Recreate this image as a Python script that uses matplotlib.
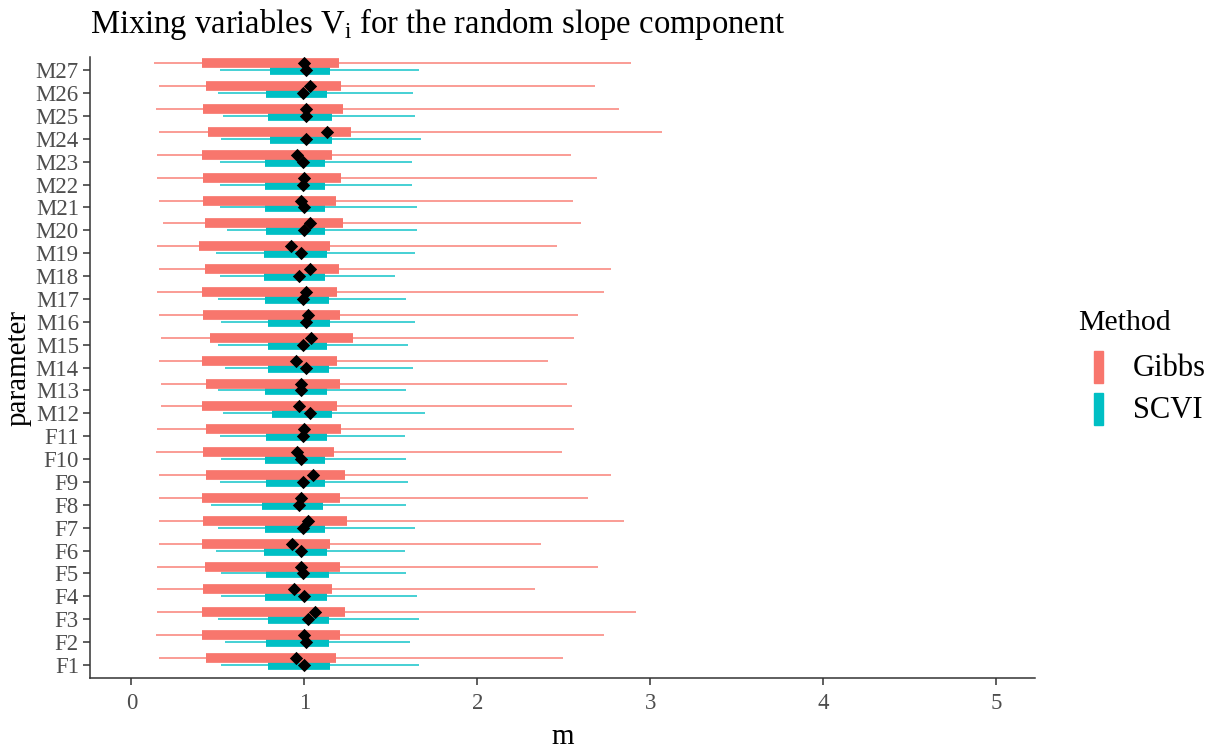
import matplotlib
matplotlib.use("Agg")
import matplotlib.pyplot as plt
from matplotlib.patches import Rectangle

plt.rcParams['font.family'] = ['Liberation Serif', 'DejaVu Serif']
plt.rcParams['mathtext.fontset'] = 'custom'
plt.rcParams['mathtext.rm'] = 'Liberation Serif'

params = ['F1', 'F2', 'F3', 'F4', 'F5', 'F6', 'F7', 'F8', 'F9', 'F10', 'F11',
          'M12', 'M13', 'M14', 'M15', 'M16', 'M17', 'M18', 'M19', 'M20', 'M21',
          'M22', 'M23', 'M24', 'M25', 'M26', 'M27']

# Gibbs: outer interval (lo, hi), inner interval (lo, hi), median
gibbs_lo   = [0.16, 0.14, 0.15, 0.15, 0.15, 0.16, 0.16, 0.16, 0.16, 0.14, 0.15,
              0.17, 0.17, 0.16, 0.17, 0.16, 0.15, 0.16, 0.15, 0.18, 0.16,
              0.15, 0.15, 0.16, 0.14, 0.16, 0.13]
gibbs_hi   = [2.495, 2.73, 2.92, 2.335, 2.70, 2.37, 2.85, 2.64, 2.77, 2.49, 2.56,
              2.55, 2.52, 2.41, 2.56, 2.58, 2.73, 2.77, 2.46, 2.60, 2.555,
              2.69, 2.54, 3.07, 2.82, 2.68, 2.89]
gibbs_ilo  = [0.43, 0.41, 0.41, 0.415, 0.425, 0.41, 0.415, 0.41, 0.43, 0.415, 0.43,
              0.41, 0.43, 0.41, 0.455, 0.415, 0.41, 0.425, 0.39, 0.425, 0.415,
              0.415, 0.41, 0.44, 0.415, 0.43, 0.41]
gibbs_ihi  = [1.18, 1.205, 1.235, 1.16, 1.205, 1.15, 1.245, 1.205, 1.235, 1.17, 1.21,
              1.19, 1.205, 1.19, 1.28, 1.205, 1.19, 1.20, 1.15, 1.225, 1.18,
              1.21, 1.16, 1.27, 1.225, 1.21, 1.20]
gibbs_med  = [0.95, 1.00, 1.06, 0.94, 0.98, 0.93, 1.02, 0.98, 1.05, 0.96, 1.00,
              0.97, 0.98, 0.95, 1.04, 1.02, 1.01, 1.03, 0.92, 1.03, 0.98,
              1.00, 0.96, 1.13, 1.01, 1.03, 1.00]

# SCVI
scvi_lo    = [0.52, 0.54, 0.50, 0.52, 0.52, 0.49, 0.50, 0.46, 0.51, 0.52, 0.51,
              0.53, 0.50, 0.54, 0.50, 0.52, 0.50, 0.51, 0.49, 0.55, 0.51,
              0.51, 0.51, 0.52, 0.53, 0.50, 0.51]
scvi_hi    = [1.665, 1.61, 1.665, 1.65, 1.59, 1.58, 1.64, 1.59, 1.60, 1.59, 1.58,
              1.70, 1.59, 1.63, 1.60, 1.64, 1.59, 1.525, 1.64, 1.65, 1.65,
              1.62, 1.62, 1.675, 1.64, 1.63, 1.665]
scvi_ilo   = [0.79, 0.78, 0.79, 0.77, 0.78, 0.765, 0.77, 0.755, 0.78, 0.77, 0.78,
              0.81, 0.77, 0.79, 0.79, 0.79, 0.77, 0.765, 0.765, 0.78, 0.77,
              0.77, 0.77, 0.80, 0.79, 0.78, 0.80]
scvi_ihi   = [1.15, 1.14, 1.14, 1.13, 1.14, 1.13, 1.12, 1.11, 1.12, 1.12, 1.13,
              1.16, 1.13, 1.14, 1.13, 1.15, 1.14, 1.12, 1.13, 1.12, 1.12,
              1.12, 1.12, 1.16, 1.16, 1.13, 1.15]
scvi_med   = [1.00, 1.01, 1.02, 1.00, 0.99, 0.98, 0.99, 0.97, 0.99, 0.98, 0.99,
              1.03, 0.98, 1.01, 0.99, 1.01, 0.99, 0.97, 0.98, 1.00, 1.00,
              0.99, 0.99, 1.01, 1.01, 0.99, 1.01]

methods = ['Gibbs', 'SCVI']
colors = {'Gibbs': '#F8766D', 'SCVI': '#00BFC4'}
offsets = {'Gibbs': 0.3, 'SCVI': 0.0}
x_ticks = [0, 1, 2, 3, 4, 5]

fig = plt.figure(figsize=(12.15, 7.48), dpi=100)
ax = fig.add_axes([0.074, 0.0936, 0.778, 0.830])

ypos = list(range(1, len(params) + 1))
data = {
    'Gibbs': (gibbs_lo, gibbs_hi, gibbs_ilo, gibbs_ihi, gibbs_med),
    'SCVI': (scvi_lo, scvi_hi, scvi_ilo, scvi_ihi, scvi_med),
}

for m in ['SCVI', 'Gibbs']:
    lo, hi, ilo, ihi, med = data[m]
    yy = [y + offsets[m] for y in ypos]
    ax.hlines(yy, lo, hi, colors=colors[m], linewidth=1.2, alpha=0.85,
              capstyle='butt', zorder=2)
for m in ['SCVI', 'Gibbs']:
    lo, hi, ilo, ihi, med = data[m]
    yy = [y + offsets[m] for y in ypos]
    ax.hlines(yy, ilo, ihi, colors=colors[m], linewidth=7.0,
              capstyle='butt', zorder=3)
for m in ['SCVI', 'Gibbs']:
    lo, hi, ilo, ihi, med = data[m]
    yy = [y + offsets[m] for y in ypos]
    ax.scatter(med, yy, marker='D', s=46, color='black', zorder=4,
               linewidths=0)

ax.set_xlim(-0.24, 5.225)
ax.set_ylim(0.43, len(params) + 0.57)
ax.set_yticks(ypos)
ax.set_yticklabels(params)
ax.set_xticks(x_ticks)
ax.set_xticklabels([str(t) for t in x_ticks])

for s in ['top', 'right']:
    ax.spines[s].set_visible(False)
for s in ['left', 'bottom']:
    ax.spines[s].set_linewidth(1.1)
    ax.spines[s].set_color('#333333')
ax.tick_params(axis='both', length=5, width=1.1, color='#333333',
               labelcolor='#4D4D4D', labelsize=16.5, pad=3)
ax.tick_params(axis='x', pad=6)

ax.set_xlabel('m', fontsize=21, color='black', labelpad=7)
ax.set_ylabel('parameter', fontsize=21, color='black', labelpad=3)

fig.text(0.074, 0.968, r'Mixing variables V$_\mathregular{i}$ for the random slope component',
         fontsize=23.5, ha='left', va='center', color='black')

# Legend
fig.text(1078 / 1215, 1 - 323 / 748, 'Method', fontsize=21.5, ha='left', va='center')
for i, m in enumerate(methods):
    ytop = 351 + i * 42
    fig.patches.append(Rectangle((1094 / 1215, 1 - (ytop + 32) / 748), 9 / 1215, 32 / 748,
                                 transform=fig.transFigure, color=colors[m]))
    fig.text(1133 / 1215, 1 - (ytop + 18) / 748, m, fontsize=22, ha='left', va='center')

fig.savefig('out.png', dpi=100)
